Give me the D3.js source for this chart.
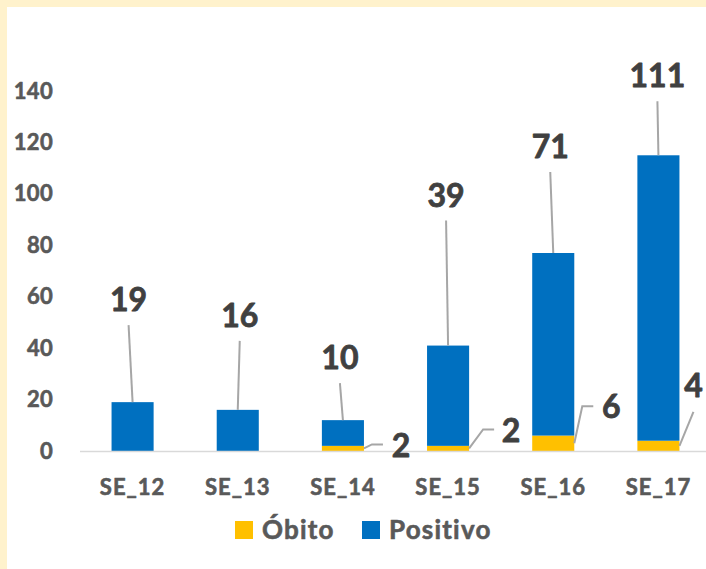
<!DOCTYPE html>
<html>
<head>
<meta charset="utf-8">
<script src="https://cdn.jsdelivr.net/npm/d3@7"></script>
<style>
  html, body { margin: 0; padding: 0; background: #fff; }
  svg { display: block; font-family: Lato, "Open Sans", sans-serif; font-weight: bold; }
  .heavy { paint-order: stroke; stroke-linejoin: round; }
</style>
</head>
<body>
<svg width="706" height="569"></svg>
<script>
// data
const categories = ["SE_12", "SE_13", "SE_14", "SE_15", "SE_16", "SE_17"];
const obito = [0, 0, 2, 2, 6, 4];
const positivo = [19, 16, 10, 39, 71, 111];
const yTicks = [0, 20, 40, 60, 80, 100, 120, 140];
const seriesNames = ["Óbito", "Positivo"];

// label placement (as dragged in the original), px relative to the bar
const posLabelOffset = [[-4, -91], [2, -83], [-3, -51], [-2, -139], [-3, -95], [-1, -68]];
// [elbowDx, elbowDy, tail, labelDx, labelDy] relative to right edge / middle of the óbito segment
const obitoLabelOffset = [null, null, [8, -4, 11, 37, 9], [14, -19, 11, 42, -6], [8, -37, 11, 37, -25], [14, -34, 0, 14, -49]];

const svg = d3.select("svg");
const width = 706, height = 569;
const colors = { obito: "#FFC000", positivo: "#0070C0" };

// pale frame (only top & left visible)
svg.append("rect").attr("width", width).attr("height", height).attr("fill", "#FFF2CC");
svg.append("rect").attr("x", 7).attr("y", 7).attr("width", width).attr("height", height).attr("fill", "#fff");

const x = d3.scaleBand().domain(categories).range([80, 711]).paddingInner(0.6).paddingOuter(0.3);
const y = d3.scaleLinear().domain([0, 140]).range([451, 91]);

// y axis labels
const yAxis = svg.append("g").attr("transform", "translate(53,0)")
  .call(d3.axisLeft(y).tickValues(yTicks).tickSize(0).tickPadding(0));
yAxis.select(".domain").remove();
yAxis.selectAll("text")
  .attr("class", "heavy")
  .attr("fill", "#595959")
  .attr("stroke", "#595959").attr("stroke-width", 0.6)
  .style("font-size", "22px")
  .style("letter-spacing", "0.3px")
  .style("font-family", "Lato")
  .style("font-weight", "bold");

const rows = categories.map((c, i) => ({ cat: c, i: i, obito: obito[i], positivo: positivo[i] }));

// stacked bars
const g = svg.append("g");
g.selectAll("rect.ob").data(rows).enter().append("rect")
  .attr("class", "ob")
  .attr("x", d => x(d.cat))
  .attr("width", x.bandwidth())
  .attr("y", d => y(d.obito))
  .attr("height", d => y(0) - y(d.obito))
  .attr("fill", colors.obito);
g.selectAll("rect.pos").data(rows).enter().append("rect")
  .attr("class", "pos")
  .attr("x", d => x(d.cat))
  .attr("width", x.bandwidth())
  .attr("y", d => y(d.obito + d.positivo))
  .attr("height", d => y(d.obito) - y(d.obito + d.positivo))
  .attr("fill", colors.positivo);

// baseline
svg.append("line")
  .attr("x1", 80).attr("x2", width)
  .attr("y1", y(0) + 0.5).attr("y2", y(0) + 0.5)
  .attr("stroke", "#d9d9d9").attr("stroke-width", 1.5);

// x axis labels
const xAxis = svg.append("g").attr("transform", "translate(0," + 495 + ")")
  .call(d3.axisBottom(x).tickSize(0).tickPadding(0));
xAxis.select(".domain").remove();
xAxis.selectAll("text")
  .attr("dy", 0)
  .attr("class", "heavy")
  .attr("fill", "#595959")
  .attr("stroke", "#595959").attr("stroke-width", 0.6)
  .style("font-size", "22px")
  .style("letter-spacing", "1px")
  .style("font-family", "Lato")
  .style("font-weight", "bold");

// positivo labels with leader lines
const labels = svg.append("g");
rows.forEach(d => {
  const cx = x(d.cat) + x.bandwidth() / 2;
  const top = y(d.obito + d.positivo);
  const off = posLabelOffset[d.i];
  const lx = cx + off[0], ly = top + off[1];
  labels.append("line")
    .attr("x1", lx).attr("y1", ly + 14)
    .attr("x2", cx).attr("y2", top)
    .attr("stroke", "#a6a6a6").attr("stroke-width", 2);
  labels.append("text")
    .attr("class", "heavy")
    .attr("x", lx).attr("y", ly)
    .attr("text-anchor", "middle")
    .attr("fill", "#404040")
    .attr("stroke", "#404040").attr("stroke-width", 0.8)
    .style("font-size", "32px")
    .text(d.positivo);
});

// óbito labels
rows.forEach(d => {
  const off = obitoLabelOffset[d.i];
  if (!off || d.obito === 0) return;
  const rx = x(d.cat) + x.bandwidth();
  const my = y(d.obito / 2);
  const ex = rx + off[0], ey = my + off[1];
  labels.append("path")
    .attr("d", d3.line()([[rx, my], [ex, ey], [ex + off[2], ey]]))
    .attr("fill", "none")
    .attr("stroke", "#a6a6a6").attr("stroke-width", 2);
  labels.append("text")
    .attr("class", "heavy")
    .attr("x", rx + off[3]).attr("y", my + off[4])
    .attr("text-anchor", "middle")
    .attr("fill", "#404040")
    .attr("stroke", "#404040").attr("stroke-width", 0.8)
    .style("font-size", "32px")
    .text(d.obito);
});

// legend
const legend = svg.append("g").attr("transform", "translate(235,521)");
const legendX = [0, 127];
seriesNames.forEach((name, i) => {
  const lg = legend.append("g").attr("transform", "translate(" + legendX[i] + ",0)");
  lg.append("rect").attr("width", 18).attr("height", 18)
    .attr("fill", i === 0 ? colors.obito : colors.positivo);
  lg.append("text").attr("x", 27).attr("y", 17.5)
    .attr("class", "heavy")
    .attr("fill", "#595959")
    .attr("stroke", "#595959").attr("stroke-width", 0.6)
    .style("font-size", "26px")
    .style("letter-spacing", "1.2px")
    .text(name);
});
</script>
</body>
</html>
